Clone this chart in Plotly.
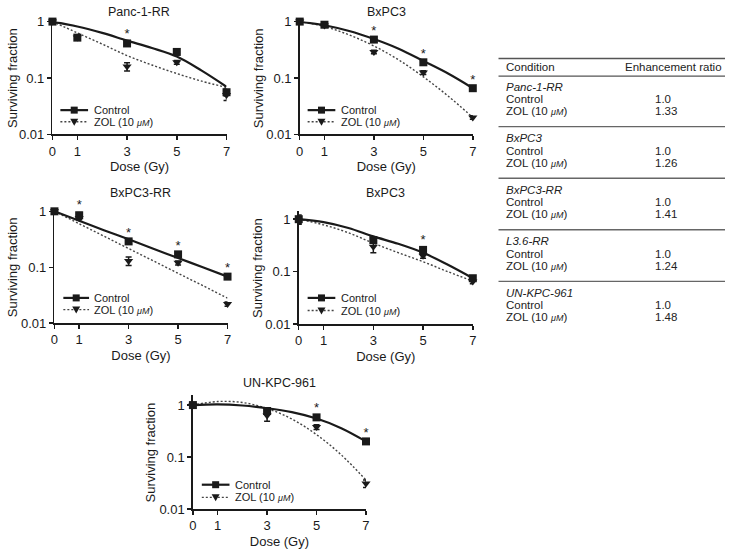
import plotly.graph_objects as go

W, H = 729, 554
FONT = "Liberation Sans, Arial, sans-serif"
INK = "#1a1a1a"
DOT = "#444444"
DOT_DASH = "2px,2px"

# ---------------- data ----------------
fit_dose = [0, 1, 2, 3, 4, 5, 6, 7]
tick_dose = [0, 1, 3, 5, 7]

titles = ["Panc-1-RR", "BxPC3", "BxPC3-RR", "BxPC3", "UN-KPC-961"]

p1_dose = [0, 1, 3, 5, 7]
p1_ctrl = [1.0, 0.52, 0.41, 0.29, 0.056]
p1_ctrl_err = [0.0, 0.04, 0.03, 0.035, 0.008]
p1_zol = [1.0, 0.52, 0.16, 0.19, 0.05]
p1_zol_err = [0.0, 0.03, 0.027, 0.015, 0.01]
p1_ctrl_fit = [1.0, 0.82, 0.63, 0.46, 0.34, 0.24, 0.135, 0.07]
p1_zol_fit = [1.0, 0.63, 0.40, 0.25, 0.17, 0.12, 0.088, 0.068]
p1_stars = [3]

p2_dose = [0, 1, 3, 5, 7]
p2_ctrl = [1.0, 0.88, 0.48, 0.19, 0.066]
p2_ctrl_err = [0.0, 0.04, 0.03, 0.01, 0.004]
p2_zol = [1.0, 0.85, 0.29, 0.125, 0.02]
p2_zol_err = [0.0, 0.03, 0.02, 0.01, 0.0015]
p2_ctrl_fit = [1.0, 0.86, 0.68, 0.49, 0.33, 0.20, 0.12, 0.066]
p2_zol_fit = [1.0, 0.82, 0.58, 0.37, 0.21, 0.105, 0.048, 0.02]
p2_stars = [3, 5, 7]

p3_dose = [0, 1, 3, 5, 7]
p3_ctrl = [1.0, 0.85, 0.29, 0.17, 0.068]
p3_ctrl_err = [0.0, 0.1, 0.02, 0.01, 0.005]
p3_zol = [1.0, 0.76, 0.13, 0.12, 0.022]
p3_zol_err = [0.0, 0.05, 0.022, 0.01, 0.002]
p3_ctrl_fit = [1.0, 0.68, 0.46, 0.316, 0.215, 0.146, 0.10, 0.068]
p3_zol_fit = [1.0, 0.60, 0.36, 0.216, 0.13, 0.078, 0.047, 0.028]
p3_stars = [1, 3, 5, 7]

p4_dose = [0, 3, 5, 7]
p4_ctrl = [1.0, 0.40, 0.26, 0.075]
p4_ctrl_err = [0.2, 0.05, 0.03, 0.008]
p4_zol = [0.92, 0.30, 0.20, 0.065]
p4_zol_err = [0.1, 0.07, 0.02, 0.006]
p4_ctrl_fit = [1.0, 0.88, 0.68, 0.47, 0.34, 0.23, 0.135, 0.075]
p4_zol_fit = [1.0, 0.78, 0.55, 0.35, 0.23, 0.155, 0.10, 0.066]
p4_stars = [5]

p5_dose = [0, 3, 5, 7]
p5_ctrl = [1.0, 0.77, 0.58, 0.20]
p5_ctrl_err = [0.08, 0.1, 0.05, 0.01]
p5_zol = [1.0, 0.63, 0.38, 0.031]
p5_zol_err = [0.05, 0.14, 0.04, 0.005]
p5_ctrl_fit = [1.0, 1.03, 0.98, 0.87, 0.73, 0.55, 0.36, 0.20]
p5_zol_fit = [1.0, 1.17, 1.12, 0.86, 0.54, 0.27, 0.11, 0.036]
p5_stars = [5, 7]

table_groups = ["Panc-1-RR", "BxPC3", "BxPC3-RR", "L3.6-RR", "UN-KPC-961"]
table_control = ["1.0", "1.0", "1.0", "1.0", "1.0"]
table_zol = ["1.33", "1.26", "1.41", "1.24", "1.48"]

panels = [
    (p1_dose, p1_ctrl, p1_ctrl_err, p1_zol, p1_zol_err, p1_ctrl_fit, p1_zol_fit, p1_stars),
    (p2_dose, p2_ctrl, p2_ctrl_err, p2_zol, p2_zol_err, p2_ctrl_fit, p2_zol_fit, p2_stars),
    (p3_dose, p3_ctrl, p3_ctrl_err, p3_zol, p3_zol_err, p3_ctrl_fit, p3_zol_fit, p3_stars),
    (p4_dose, p4_ctrl, p4_ctrl_err, p4_zol, p4_zol_err, p4_ctrl_fit, p4_zol_fit, p4_stars),
    (p5_dose, p5_ctrl, p5_ctrl_err, p5_zol, p5_zol_err, p5_ctrl_fit, p5_zol_fit, p5_stars),
]

# ---------------- layout geometry (pixels) ----------------
def fx(px):
    return px / W

def fy(py):
    return 1 - py / H

# (x_left, x_right, y_top, y_bottom, log_top, title_y, ytitle_x)
geom = [
    (49, 225, 15, 131, 0.0, 5, 8),
    (299, 474, 15, 131, 0.0, 5, 257),
    (51, 226, 210, 325, 0.0, 191, 8),
    (298, 474, 210, 326, 0.15, 191, 257),
    (191, 366, 399, 516, 0.19, 386, 148),
]
# legend: (line_x0, line_x1, text_x, row1_y, row2_y)
legend_geom = [
    (57, 85, 89, 106, 118),
    (307, 335, 339, 106, 118),
    (60, 86, 89, 299, 311),
    (307, 335, 339, 299, 312),
    (200, 228, 232, 491, 504),
]

AX_FONT = dict(size=13, color=INK, family=FONT)

fig = go.Figure()
shapes = []
annotations = []
layout_axes = {}

zol_label = "ZOL (10 <i><span style='font-size:9px'>μM</span></i>)"

for i, (pan, g, lg) in enumerate(zip(panels, geom, legend_geom)):
    dose, ctrl, ctrl_err, zol, zol_err, ctrl_fit, zol_fit, stars = pan
    xl, xr, yt, yb, ltop, ty, ytx = g
    n = "" if i == 0 else str(i + 1)
    xa, ya = "x" + n, "y" + n

    fig.add_trace(go.Scatter(x=fit_dose, y=zol_fit, mode="lines", xaxis=xa, yaxis=ya,
                             line=dict(color=DOT, width=1.4, dash=DOT_DASH, shape="spline"),
                             showlegend=False, cliponaxis=False, hoverinfo="skip"))
    fig.add_trace(go.Scatter(x=fit_dose, y=ctrl_fit, mode="lines", xaxis=xa, yaxis=ya,
                             line=dict(color=INK, width=2.2, shape="spline"),
                             showlegend=False, cliponaxis=False, hoverinfo="skip"))
    fig.add_trace(go.Scatter(x=dose, y=zol, mode="markers", xaxis=xa, yaxis=ya,
                             marker=dict(symbol="triangle-down", size=8, color=INK),
                             error_y=dict(type="data", array=zol_err, color=INK, thickness=1.5, width=3),
                             showlegend=False, cliponaxis=False))
    fig.add_trace(go.Scatter(x=dose, y=ctrl, mode="markers", xaxis=xa, yaxis=ya,
                             marker=dict(symbol="square", size=8, color=INK),
                             error_y=dict(type="data", array=ctrl_err, color=INK, thickness=1.5, width=3),
                             showlegend=False, cliponaxis=False))
    star_y = [ctrl[dose.index(d)] + ctrl_err[dose.index(d)] for d in stars]
    fig.add_trace(go.Scatter(x=stars, y=star_y, mode="text", text=["*"] * len(stars),
                             textposition="top center", xaxis=xa, yaxis=ya,
                             textfont=dict(size=13, color=INK, family=FONT),
                             showlegend=False, cliponaxis=False, hoverinfo="skip"))

    layout_axes["xaxis" + n] = dict(
        domain=[fx(xl), fx(xr)], anchor=ya, range=[0, 7], tickvals=tick_dose,
        ticks="outside", ticklen=4, tickwidth=1.5, tickcolor=INK,
        showline=True, linewidth=1.6, linecolor=INK, showgrid=False, zeroline=False,
        tickfont=AX_FONT, fixedrange=True,
        title=dict(text="Dose (Gy)", font=AX_FONT, standoff=4),
    )
    layout_axes["yaxis" + n] = dict(
        domain=[fy(yb), fy(yt)], anchor=xa, type="log", range=[-2, ltop],
        tickvals=[0.01, 0.1, 1], ticktext=["0.01", "0.1", "1"],
        ticks="outside", ticklen=4, tickwidth=1.5, tickcolor=INK,
        showline=True, linewidth=1.6, linecolor=INK, showgrid=False, zeroline=False,
        tickfont=AX_FONT, fixedrange=True,
    )
    annotations.append(dict(x=fx(ytx), y=fy((yt + yb) / 2), xref="paper", yref="paper",
                            text="Surviving fraction", textangle=-90, showarrow=False,
                            font=AX_FONT, xanchor="center", yanchor="middle"))
    annotations.append(dict(x=fx((xl + xr) / 2), y=fy(ty), xref="paper", yref="paper",
                            text=titles[i], showarrow=False,
                            font=dict(size=12.5, color=INK, family=FONT),
                            xanchor="center", yanchor="middle"))
    # legend keys
    lx0, lx1, tx, r1, r2 = lg
    mid = fx((lx0 + lx1) / 2)
    shapes.append(dict(type="line", xref="paper", yref="paper", x0=fx(lx0), x1=fx(lx1),
                       y0=fy(r1), y1=fy(r1), line=dict(color=INK, width=2.2)))
    shapes.append(dict(type="rect", xref="paper", yref="paper", xsizemode="pixel", ysizemode="pixel",
                       xanchor=mid, yanchor=fy(r1), x0=-3.5, x1=3.5, y0=-3.5, y1=3.5,
                       fillcolor=INK, line=dict(width=0)))
    shapes.append(dict(type="line", xref="paper", yref="paper", x0=fx(lx0), x1=fx(lx1),
                       y0=fy(r2), y1=fy(r2), line=dict(color=DOT, width=1.4, dash=DOT_DASH)))
    shapes.append(dict(type="path", xref="paper", yref="paper", xsizemode="pixel", ysizemode="pixel",
                       xanchor=mid, yanchor=fy(r2), path="M-4,3 L4,3 L0,-4 Z",
                       fillcolor=INK, line=dict(width=0)))
    annotations.append(dict(x=fx(tx), y=fy(r1), xref="paper", yref="paper", text="Control",
                            showarrow=False, xanchor="left", yanchor="middle",
                            font=dict(size=11, color=INK, family=FONT)))
    annotations.append(dict(x=fx(tx), y=fy(r2), xref="paper", yref="paper", text=zol_label,
                            showarrow=False, xanchor="left", yanchor="middle",
                            font=dict(size=11, color=INK, family=FONT)))

# ---------------- table ----------------
TCOL = "#222222"
tfont = dict(size=11.5, color=TCOL, family=FONT)
tx_left, tx_val = 506, 656
shapes.append(dict(type="line", xref="paper", yref="paper", x0=fx(500), x1=1.0,
                   y0=fy(53), y1=fy(53), line=dict(color="#555555", width=1.4)))
shapes.append(dict(type="line", xref="paper", yref="paper", x0=fx(500), x1=1.0,
                   y0=fy(71), y1=fy(71), line=dict(color="#555555", width=1.4)))
annotations.append(dict(x=fx(tx_left), y=fy(62), xref="paper", yref="paper", text="Condition",
                        showarrow=False, xanchor="left", yanchor="middle", font=tfont))
annotations.append(dict(x=fx(728), y=fy(62), xref="paper", yref="paper", text="Enhancement ratio",
                        showarrow=False, xanchor="right", yanchor="middle", font=tfont))
for k, (grp, c, z) in enumerate(zip(table_groups, table_control, table_zol)):
    top = 71 + 53 * k
    if k > 0:
        shapes.append(dict(type="line", xref="paper", yref="paper", x0=fx(500), x1=1.0,
                           y0=fy(top - 1), y1=fy(top - 1), line=dict(color="#666666", width=1.4)))
    annotations.append(dict(x=fx(tx_left), y=fy(top + 11), xref="paper", yref="paper",
                            text="<i>" + grp + "</i>", showarrow=False, xanchor="left",
                            yanchor="middle", font=tfont))
    annotations.append(dict(x=fx(tx_left), y=fy(top + 23.5), xref="paper", yref="paper",
                            text="Control", showarrow=False, xanchor="left",
                            yanchor="middle", font=tfont))
    annotations.append(dict(x=fx(tx_left), y=fy(top + 36), xref="paper", yref="paper",
                            text=zol_label, showarrow=False, xanchor="left",
                            yanchor="middle", font=tfont))
    annotations.append(dict(x=fx(tx_val), y=fy(top + 23.5), xref="paper", yref="paper",
                            text=c, showarrow=False, xanchor="left",
                            yanchor="middle", font=tfont))
    annotations.append(dict(x=fx(tx_val), y=fy(top + 36), xref="paper", yref="paper",
                            text=z, showarrow=False, xanchor="left",
                            yanchor="middle", font=tfont))

fig.update_layout(
    width=W, height=H, autosize=False,
    margin=dict(l=0, r=0, t=0, b=0),
    paper_bgcolor="white", plot_bgcolor="white",
    showlegend=False, hovermode=False,
    shapes=shapes, annotations=annotations,
    font=dict(family=FONT, color=INK),
    **layout_axes,
)

fig.write_html("out.html", config={"displayModeBar": False, "staticPlot": True},
               post_script="document.body.style.margin='0';document.body.style.overflow='hidden';")
